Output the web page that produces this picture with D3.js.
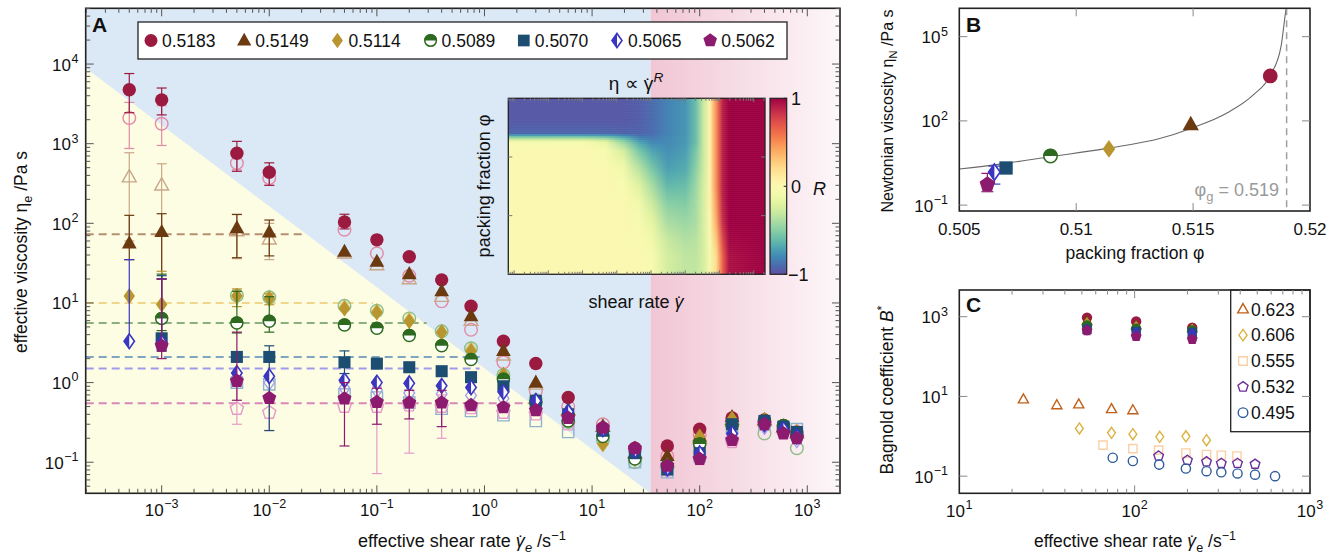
<!DOCTYPE html>
<html>
<head>
<meta charset="utf-8">
<script src="https://cdn.jsdelivr.net/npm/d3@7"></script>
<style>
  body { margin: 0; background: #fff; }
  svg { font-family: "Liberation Sans", Arial, Helvetica, sans-serif; }
</style>
</head>
<body>
<svg id="fig" width="1341" height="558"></svg>
<script>
// ---------- data: panel A ----------
var shearRates = [5e-4, 1e-3, 5e-3, 1e-2, 0.05, 0.1, 0.2, 0.4, 0.75, 1.5, 3, 6, 12.6, 25, 50, 100, 200, 400, 600, 800];
var phiLabels = ["0.5183", "0.5149", "0.5114", "0.5089", "0.5070", "0.5065", "0.5062"];

var etaFilled = [
  [4760, 3550, 760, 437, 104, 62, 38, 19.5, 9.1, 3.3, 1.74, 0.65, 0.27, 0.15, 0.16, 0.26, 0.36, 0.34, 0.28, 0.24],
  [56, 78, 87, 77, 44, 33, 23, 14, 6.8, 2.5, 1.0, 0.45, 0.28, 0.13, 0.12, 0.21, 0.37, 0.34, 0.28, 0.24],
  [12.2, 9.6, 12.3, 11.4, 8.5, 7.6, 5.9, 4.3, 2.5, 1.26, 0.59, 0.36, 0.17, 0.11, 0.09, 0.21, 0.35, 0.34, 0.28, 0.24],
  [null, 6.4, 5.6, 5.9, 5.3, 4.8, 3.9, 2.9, 1.95, 1.1, 0.56, 0.33, 0.21, 0.11, 0.09, 0.17, 0.29, 0.33, 0.29, 0.21],
  [null, 3.6, 2.1, 2.1, 1.8, 1.73, 1.56, 1.39, 1.17, 0.9, 0.59, 0.40, 0.25, 0.13, 0.081, 0.13, 0.30, 0.33, 0.28, 0.24],
  [3.3, 3.2, 1.32, 1.2, 1.07, 1.0, 0.98, 0.91, 0.87, 0.76, 0.59, 0.43, 0.26, 0.14, 0.084, 0.13, 0.23, 0.30, 0.26, 0.21],
  [null, 2.9, 1.05, 0.64, 0.63, 0.57, 0.56, 0.56, 0.52, 0.49, 0.45, 0.36, 0.27, 0.15, 0.09, 0.11, 0.19, 0.30, 0.23, 0.20]
];
var etaOpen = [
  [2100, 1780, 570, 370, 83, 42, 22, 10.5, 4.6, 1.8, 0.78, 0.5, 0.3, 0.14, 0.12, 0.22, 0.33, 0.32, 0.26, 0.22],
  [380, 300, 80, 63, 42, 30, 20, 12, 6.0, 2.2, 0.95, 0.45, 0.28, 0.13, 0.1, 0.2, 0.34, 0.33, 0.27, 0.23],
  [null, null, 12, 11.5, 8.8, 7.8, 6.1, 4.3, 2.6, 1.2, 0.55, 0.33, 0.17, 0.11, 0.09, 0.2, 0.33, 0.32, 0.27, 0.22],
  [null, null, 12.4, 11.8, 9.2, 8.0, 6.4, 4.4, 2.7, 1.25, 0.6, 0.32, 0.19, 0.1, 0.085, 0.17, 0.3, 0.23, 0.25, 0.15],
  [null, null, 1.0, 0.95, 0.71, 0.65, 0.56, 0.47, 0.44, 0.39, 0.33, 0.24, 0.22, 0.1, 0.075, 0.12, 0.27, 0.3, 0.27, 0.26],
  [null, null, 1.15, 1.0, 0.85, 0.8, 0.74, 0.72, 0.69, 0.63, 0.5, 0.38, 0.24, 0.12, 0.08, 0.12, 0.22, 0.28, 0.25, 0.19],
  [null, null, 0.47, 0.42, 0.5, 0.5, 0.52, 0.5, 0.48, 0.42, 0.4, 0.3, 0.25, 0.14, 0.085, 0.11, 0.18, 0.3, 0.24, 0.21]
];
// error bars: [index into shearRates, low, high]
var errFilled = [
  [[0, 2450, 7600], [1, 2300, 5000], [2, 450, 1070], [3, 300, 575], [4, 85, 130]],
  [[0, 35, 126], [1, 20, 132], [2, 37, 129], [3, 39, 110]],
  [[1, 6, 25], [2, 9, 15], [3, 9.5, 13]],
  [[1, 4.5, 23], [2, 4.2, 14], [3, 4.3, 12]],
  [[1, 2.5, 22], [3, 0.25, 2.9], [4, 1.3, 2.5]],
  [[0, 3.3, 35], [1, 2.5, 20]],
  [[1, 2, 20], [2, 0.6, 4.3], [4, 0.16, 1.0], [5, 0.30, 0.85], [6, 0.35, 0.8], [7, 0.28, 0.8]]
];
var errOpen = [
  [[0, 870, 3300], [1, 950, 3000], [2, 470, 700], [3, 300, 450]],
  [[0, 60, 770], [1, 20, 560], [2, 36, 130], [3, 35, 100]],
  [], [], [], [],
  [[2, 0.3, 0.9], [3, 0.25, 0.7], [5, 0.072, 0.9], [6, 0.13, 0.8], [7, 0.2, 0.7]]
];
// Newtonian plateau viscosity and the rate where its dashed line stops
var etaNewtonian = [4000, 73, 10, 5.6, 2.1, 1.5, 0.55];
var plateauEnd = [null, 0.022, 0.092, 0.29, 0.9, 0.9, 2.95];

// background regions of A
var yieldEtaAtLowest = 8900;   // upper edge of yellow region at the lowest rate
var crossoverRate = 35;        // start of the inertial (pink) region

// inset heatmap: R read along rows (v = fraction of height) at shear positions u
var insetU = [0, 0.3, 0.38, 0.45, 0.51, 0.56, 0.62, 0.69, 0.73, 0.76, 0.785, 0.81, 0.835, 0.86, 1];
var insetV = [0, 0.12, 0.2, 0.225, 0.25, 0.3, 0.4, 0.5, 0.6, 0.7, 0.8, 0.9, 1];
var insetR = [
  [-0.97, -0.97, -0.97, -0.97, -0.95, -0.9, -0.82, -0.76, -0.6, -0.3, 0.05, 0.5, 0.9, 1, 1],
  [-0.97, -0.97, -0.97, -0.97, -0.95, -0.9, -0.82, -0.76, -0.6, -0.3, 0.05, 0.5, 0.9, 1, 1],
  [-0.92, -0.92, -0.92, -0.93, -0.93, -0.9, -0.82, -0.76, -0.6, -0.3, 0.05, 0.5, 0.9, 1, 1],
  [-0.45, -0.45, -0.5, -0.65, -0.82, -0.85, -0.8, -0.75, -0.6, -0.3, 0.05, 0.5, 0.9, 1, 1],
  [-0.04, -0.05, -0.15, -0.45, -0.7, -0.8, -0.8, -0.75, -0.6, -0.3, 0.05, 0.5, 0.9, 1, 1],
  [0, 0, -0.05, -0.25, -0.55, -0.7, -0.78, -0.72, -0.55, -0.3, 0.05, 0.5, 0.9, 1, 1],
  [0, 0, 0, -0.1, -0.35, -0.55, -0.72, -0.68, -0.5, -0.28, 0.05, 0.5, 0.9, 1, 1],
  [0, 0, 0, -0.04, -0.2, -0.4, -0.62, -0.6, -0.45, -0.25, 0.05, 0.5, 0.9, 1, 1],
  [0, 0, 0, 0, -0.1, -0.28, -0.5, -0.52, -0.42, -0.25, 0.05, 0.45, 0.88, 1, 1],
  [0, 0, 0, 0, -0.05, -0.18, -0.4, -0.45, -0.4, -0.25, 0.0, 0.4, 0.85, 1, 1],
  [0, 0, 0, 0, -0.02, -0.1, -0.3, -0.38, -0.36, -0.25, -0.05, 0.3, 0.75, 0.98, 1],
  [0, 0, 0, 0, 0, -0.05, -0.25, -0.33, -0.33, -0.25, -0.08, 0.2, 0.65, 0.95, 1],
  [0, 0, 0, 0, 0, -0.05, -0.25, -0.33, -0.33, -0.25, -0.08, 0.2, 0.65, 0.95, 1]
];

// ---------- data: panel B ----------
var phiValues = [0.5183, 0.5149, 0.5114, 0.5089, 0.5070, 0.5065, 0.5062];
var errNewtonian = [null, null, null, null, null, [0.56, 2.45], [0.3, 1.35]];
var fitPhi = [0.5050, 0.50674, 0.50889, 0.51132, 0.51361, 0.51490, 0.51647, 0.51761, 0.51830, 0.51876, 0.51897, 0.51904];
var fitEta = [1.92, 2.89, 5.27, 10.5, 23.9, 54, 195, 890, 4170, 44000, 900000, 2000000];
var phiGlass = 0.519;

// ---------- data: panel C ----------
var bagnoldLabels = ["0.623", "0.606", "0.555", "0.532", "0.495"];
var bagnoldRates = [
  [23.2, 36, 48, 73.8, 97.7],
  [48.4, 73.8, 97.7, 139, 196, 257],
  [66, 97.7, 137, 196, 257, 312, 383],
  [137, 200, 257, 312, 386, 486],
  [75, 97.7, 138, 196, 257, 312, 386, 486, 632]
];
var bagnoldValues = [
  [8.4, 6.0, 6.3, 4.8, 4.5],
  [1.57, 1.22, 1.13, 0.97, 1.0, 0.80],
  [0.60, 0.49, 0.45, 0.38, 0.35, 0.335, 0.32],
  [0.32, 0.25, 0.23, 0.21, 0.21, 0.20],
  [0.29, 0.24, 0.195, 0.155, 0.133, 0.125, 0.117, 0.109, 0.10]
];
var bagnoldOwnRates = [53.5, 102, 213];
var bagnoldOwn = [
  [950, 760, 530], [780, 600, 500], [700, 560, 480], [600, 500, 450],
  [480, 420, 400], [480, 400, 380], [450, 320, 270]
];

// ---------- styles ----------
var phiColors = ["#9b1b40", "#6b3a10", "#b8952f", "#2d6a1f", "#1d4e72", "#3a36c0", "#8c1a6e"];
var openColors = ["#e38aa7", "#c9a787", "#e2c877", "#8dbf8a", "#8fb3cc", "#a3a0ee", "#e59bc9"];
var dashColors = ["none", "#b59070", "#efd68c", "#8bb07f", "#80a4c2", "#9f9bea", "#d987b8"];
var phiShapes = ["circle", "triangle", "diamond", "halfcircle", "square", "halfdiamond", "pentagon"];
var openShapes = ["circle", "triangle", "diamond", "circle", "square", "diamond", "pentagon"];
var bagnoldColors = ["#c0601a", "#dbb240", "#fcd0a6", "#6b2f9c", "#2f5d9c"];
var bagnoldShapes = ["triangle", "diamond", "square", "pentagon", "circle"];

var TICK = 17, TITLE = 17.5;

var svg = d3.select("#fig");
var defs = svg.append("defs");

// ---------- helpers ----------
function shapePath(shape, r) {
  if (shape === "circle" || shape === "halfcircle") {
    return "M" + r + ",0A" + r + "," + r + " 0 1 1 " + (-r) + ",0A" + r + "," + r + " 0 1 1 " + r + ",0Z";
  }
  if (shape === "triangle") return "M0," + (-1.2 * r) + "L" + (1.1 * r) + "," + (0.75 * r) + "L" + (-1.1 * r) + "," + (0.75 * r) + "Z";
  if (shape === "diamond" || shape === "halfdiamond") return "M0," + (-1.2 * r) + "L" + (0.85 * r) + ",0L0," + (1.2 * r) + "L" + (-0.85 * r) + ",0Z";
  if (shape === "square") return "M" + (-0.9 * r) + "," + (-0.9 * r) + "h" + (1.8 * r) + "v" + (1.8 * r) + "h" + (-1.8 * r) + "Z";
  if (shape === "pentagon") {
    var p = d3.range(5).map(function (k) {
      var a = -Math.PI / 2 + k * 2 * Math.PI / 5;
      return [1.1 * r * Math.cos(a), 1.1 * r * Math.sin(a)];
    });
    return "M" + p.join("L") + "Z";
  }
}

function marker(g, shape, x, y, r, color, open) {
  var m = g.append("g").attr("transform", "translate(" + x + "," + y + ")");
  if (open) {
    m.append("path").attr("d", shapePath(shape, r)).attr("fill", "none").attr("stroke", color).attr("stroke-width", 1.4);
  } else if (shape === "halfcircle") {
    m.append("path").attr("d", shapePath(shape, r - 0.7)).attr("fill", "#fff").attr("stroke", color).attr("stroke-width", 1.5);
    m.append("path").attr("d", "M" + (-r) + ",0A" + r + "," + r + " 0 0 1 " + r + ",0Z").attr("fill", color);
  } else if (shape === "halfdiamond") {
    m.append("path").attr("d", shapePath(shape, r - 0.6)).attr("fill", "#fff").attr("stroke", color).attr("stroke-width", 1.6);
    m.append("path").attr("d", "M0," + (-1.2 * r) + "L" + (-0.85 * r) + ",0L0," + (1.2 * r) + "Z").attr("fill", color);
  } else {
    m.append("path").attr("d", shapePath(shape, r)).attr("fill", color);
  }
}

function logTicks(scale) {
  var d = scale.domain(), out = [];
  var lo = Math.floor(Math.log10(d[0])), hi = Math.ceil(Math.log10(d[1]));
  for (var k = lo; k <= hi; k++) {
    for (var m = 1; m < 10; m++) {
      var v = m * Math.pow(10, k);
      if (v >= d[0] * 1.0001 && v <= d[1] / 1.0001) out.push({ v: v, major: m === 1, k: k });
    }
  }
  return out;
}

function powLabel(g, x, y, exp, anchor, size) {
  var t = g.append("text").attr("x", x).attr("y", y).attr("text-anchor", anchor)
    .attr("font-size", size).attr("fill", "#111");
  t.append("tspan").text("10");
  t.append("tspan").attr("dy", -0.45 * size).attr("dx", 0.5).attr("font-size", size * 0.74).text(exp < 0 ? "\u2212" + (-exp) : exp);
}

// parts: {t, sub, sup, it, dot}
function rich(t, parts, size) {
  var shift = 0, pendingDx = 0;
  parts.forEach(function (p) {
    var fs = (p.sub || p.sup) ? size * 0.72 : size;
    var target = p.sub ? size * 0.27 : (p.sup ? -size * 0.4 : 0);
    var s = t.append("tspan").text(p.t).attr("font-size", fs);
    if (target !== shift) s.attr("dy", target - shift);
    shift = target;
    if (pendingDx) { s.attr("dx", pendingDx); pendingDx = 0; }
    if (p.it) s.attr("font-style", "italic");
    if (p.dot) {
      t.append("tspan").text("\u02d9").attr("font-size", fs)
        .attr("dx", (p.it ? -0.37 : -0.42) * fs).attr("dy", 0.12 * fs);
      shift += 0.12 * fs;
      pendingDx = (p.it ? 0.04 : 0.09) * fs;
    }
  });
}

function frame(g, x0, x1, y0, y1) {
  g.append("rect").attr("x", x0).attr("y", y0).attr("width", x1 - x0).attr("height", y1 - y0)
    .attr("fill", "none").attr("stroke", "#222").attr("stroke-width", 1.6);
}

function xTicks(g, scale, values, y0, y1, color) {
  values.forEach(function (t) {
    var x = scale(t.v), L = t.major ? 8 : 4.5;
    g.append("line").attr("x1", x).attr("x2", x).attr("y1", y1).attr("y2", y1 - L).attr("stroke", color);
    g.append("line").attr("x1", x).attr("x2", x).attr("y1", y0).attr("y2", y0 + L).attr("stroke", color);
  });
}
function yTicks(g, scale, values, x0, x1, color) {
  values.forEach(function (t) {
    var y = scale(t.v), L = t.major ? 8 : 4.5;
    g.append("line").attr("x1", x0).attr("x2", x0 + L).attr("y1", y).attr("y2", y).attr("stroke", color);
    g.append("line").attr("x1", x1).attr("x2", x1 - L).attr("y1", y).attr("y2", y).attr("stroke", color);
  });
}

function errorBar(g, x, yLo, yHi, color, w) {
  g.append("line").attr("x1", x).attr("x2", x).attr("y1", yLo).attr("y2", yHi).attr("stroke", color).attr("stroke-width", 1.2);
  [yLo, yHi].forEach(function (y) {
    g.append("line").attr("x1", x - w).attr("x2", x + w).attr("y1", y).attr("y2", y).attr("stroke", color).attr("stroke-width", 1.2);
  });
}

// ================= PANEL A =================
var A = { x0: 85.7, x1: 840, y0: 8.3, y1: 493.3 };
var xA = d3.scaleLog().domain([Math.pow(10, -3.706), Math.pow(10, 3.304)]).range([A.x0, A.x1]);
var yA = d3.scaleLog().domain([Math.pow(10, -1.39), Math.pow(10, 4.70)]).range([A.y1, A.y0]);
var gA = svg.append("g");

var pinkGrad = defs.append("linearGradient").attr("id", "pinkGrad").attr("x1", 0).attr("x2", 1).attr("y1", 0).attr("y2", 0);
pinkGrad.append("stop").attr("offset", 0).attr("stop-color", "#f1c6d4");
pinkGrad.append("stop").attr("offset", 1).attr("stop-color", "#fdf7f9");

gA.append("rect").attr("x", A.x0).attr("y", A.y0).attr("width", xA(crossoverRate) - A.x0).attr("height", A.y1 - A.y0).attr("fill", "#dbe9f6");
gA.append("path")
  .attr("d", "M" + A.x0 + "," + yA(yieldEtaAtLowest) + "L" + xA(crossoverRate) + "," + A.y1 + "L" + A.x0 + "," + A.y1 + "Z")
  .attr("fill", "#fdfde4");
gA.append("rect").attr("x", xA(crossoverRate)).attr("y", A.y0).attr("width", A.x1 - xA(crossoverRate)).attr("height", A.y1 - A.y0).attr("fill", "url(#pinkGrad)");

// Newtonian plateau dashed lines
etaNewtonian.forEach(function (eta, i) {
  if (plateauEnd[i] === null) return;
  gA.append("line").attr("x1", A.x0).attr("x2", xA(plateauEnd[i])).attr("y1", yA(eta)).attr("y2", yA(eta))
    .attr("stroke", dashColors[i]).attr("stroke-width", 2).attr("stroke-dasharray", "8,5");
});

// open (second) measurements
etaOpen.forEach(function (series, i) {
  errOpen[i].forEach(function (e) {
    errorBar(gA, xA(shearRates[e[0]]), yA(e[1]), yA(e[2]), openColors[i], 5);
  });
  series.forEach(function (v, j) {
    if (v === null) return;
    marker(gA, openShapes[i], xA(shearRates[j]), yA(v), 6.3, openColors[i], true);
  });
});
// filled measurements
etaFilled.forEach(function (series, i) {
  errFilled[i].forEach(function (e) {
    errorBar(gA, xA(shearRates[e[0]]), yA(e[1]), yA(e[2]), phiColors[i], 5);
  });
  series.forEach(function (v, j) {
    if (v === null) return;
    marker(gA, phiShapes[i], xA(shearRates[j]), yA(v), 6.7, phiColors[i], false);
  });
});

// ----- inset heatmap -----
var I = { x0: 508.3, x1: 765, y0: 98.3, y1: 274.3 };
var insetY = d3.scaleLinear().domain([0, 1]).range([I.y0, I.y1]);
var rColor = function (R) { return d3.interpolateSpectral((1 - R) / 2); };

defs.append("clipPath").attr("id", "insetClip").append("rect")
  .attr("x", I.x0).attr("y", I.y0).attr("width", I.x1 - I.x0).attr("height", I.y1 - I.y0);

// thin horizontal strips, each shaded between the two nearest read rows
var hm = svg.append("g").attr("clip-path", "url(#insetClip)");
var nStrips = 88;
d3.range(nStrips).forEach(function (s) {
  var v = (s + 0.5) / nStrips;
  var k = Math.min(insetV.length - 2, Math.max(0, d3.bisectRight(insetV, v) - 1));
  var f = (v - insetV[k]) / (insetV[k + 1] - insetV[k]);
  var grad = defs.append("linearGradient").attr("id", "hmrow" + s).attr("x1", 0).attr("x2", 1).attr("y1", 0).attr("y2", 0);
  insetU.forEach(function (u, j) {
    var R = insetR[k][j] + f * (insetR[k + 1][j] - insetR[k][j]);
    grad.append("stop").attr("offset", u).attr("stop-color", rColor(R));
  });
  hm.append("rect").attr("x", I.x0).attr("width", I.x1 - I.x0)
    .attr("y", insetY(s / nStrips)).attr("height", (I.y1 - I.y0) / nStrips + 0.6)
    .attr("fill", "url(#hmrow" + s + ")");
});
svg.append("rect").attr("x", I.x0).attr("y", I.y0).attr("width", I.x1 - I.x0).attr("height", I.y1 - I.y0)
  .attr("fill", "none").attr("stroke", "#222").attr("stroke-width", 1.3);

var insetLog = d3.scaleLog().domain([Math.pow(10, -4.17), Math.pow(10, 3.33)]).range([I.x0, I.x1]);
logTicks(insetLog).forEach(function (t) {
  var x = insetLog(t.v), L = t.major ? 4 : 2.5;
  svg.append("line").attr("x1", x).attr("x2", x).attr("y1", I.y0).attr("y2", I.y0 + L).attr("stroke", "#777");
  svg.append("line").attr("x1", x).attr("x2", x).attr("y1", I.y1).attr("y2", I.y1 - L).attr("stroke", "#777");
});
[1 / 3, 2 / 3].forEach(function (v) {
  svg.append("line").attr("x1", I.x0).attr("x2", I.x0 + 4).attr("y1", insetY(v)).attr("y2", insetY(v)).attr("stroke", "#777");
  svg.append("line").attr("x1", I.x1).attr("x2", I.x1 - 4).attr("y1", insetY(v)).attr("y2", insetY(v)).attr("stroke", "#777");
});

// colour bar
var cbGrad = defs.append("linearGradient").attr("id", "cbGrad").attr("x1", 0).attr("x2", 0).attr("y1", 0).attr("y2", 1);
d3.range(0, 1.001, 0.05).forEach(function (t) {
  cbGrad.append("stop").attr("offset", t).attr("stop-color", d3.interpolateSpectral(t));
});
var cbX0 = 770, cbX1 = 786.7;
var cbScale = d3.scaleLinear().domain([-1, 1]).range([I.y1, I.y0]);
svg.append("rect").attr("x", cbX0).attr("y", I.y0).attr("width", cbX1 - cbX0).attr("height", I.y1 - I.y0)
  .attr("fill", "url(#cbGrad)").attr("stroke", "#222").attr("stroke-width", 1.2);
[-1, 0, 1].forEach(function (R) {
  svg.append("line").attr("x1", cbX1).attr("x2", cbX1 - 3).attr("y1", cbScale(R)).attr("y2", cbScale(R)).attr("stroke", "#222");
  svg.append("text").attr("x", R < 0 ? 788 : 791).attr("y", cbScale(R) + 6.5).attr("font-size", 18).attr("fill", "#111")
    .text(R < 0 ? "\u22121" : R);
});
svg.append("text").attr("x", 813).attr("y", 194.5).attr("font-size", 18).attr("font-style", "italic").attr("fill", "#111").text("R");

var tTitle = svg.append("text").attr("x", 636).attr("y", 90).attr("text-anchor", "middle").attr("font-size", 19).attr("fill", "#111");
rich(tTitle, [{ t: "\u03b7 \u221d " }, { t: "\u03b3", dot: true }, { t: "R", sup: true, it: true }], 19);
var tShear = svg.append("text").attr("x", 636).attr("y", 308).attr("text-anchor", "middle").attr("font-size", 18).attr("fill", "#111");
rich(tShear, [{ t: "shear rate " }, { t: "\u03b3", it: true, dot: true }], 18);
svg.append("text").attr("transform", "translate(490,186) rotate(-90)").attr("text-anchor", "middle")
  .attr("font-size", 18).attr("fill", "#111").text("packing fraction \u03c6");

// ----- legend A -----
var legA = svg.append("g");
legA.append("rect").attr("x", 138).attr("y", 22).attr("width", 649).attr("height", 37)
  .attr("fill", "#fff").attr("stroke", "#222").attr("stroke-width", 1.3);
phiLabels.forEach(function (lab, i) {
  var x = 151 + i * 93.2;
  marker(legA, phiShapes[i], x, 40.5, 6.5, phiColors[i], false);
  legA.append("text").attr("x", x + 11).attr("y", 46.5).attr("font-size", 17.5).attr("fill", "#111").text(lab);
});

// ----- axes A -----
var axA = svg.append("g");
frame(axA, A.x0, A.x1, A.y0, A.y1);
xTicks(axA, xA, logTicks(xA), A.y0, A.y1, "#555");
yTicks(axA, yA, logTicks(yA), A.x0, A.x1, "#555");
logTicks(xA).filter(function (t) { return t.major; }).forEach(function (t) {
  powLabel(axA, xA(t.v), 516, t.k, "middle", TICK);
});
logTicks(yA).filter(function (t) { return t.major; }).forEach(function (t) {
  powLabel(axA, 78.5, yA(t.v) + 6.5, t.k, "end", TICK);
});
var axTitleA = axA.append("text").attr("x", 462).attr("y", 547).attr("text-anchor", "middle").attr("font-size", 18).attr("fill", "#111");
rich(axTitleA, [{ t: "effective shear rate " }, { t: "\u03b3", it: true, dot: true }, { t: "e", sub: true, it: true }, { t: " /s" }, { t: "\u22121", sup: true }], 18);
var ayTitleA = axA.append("text").attr("transform", "translate(27,252) rotate(-90)").attr("text-anchor", "middle").attr("font-size", TITLE).attr("fill", "#111");
rich(ayTitleA, [{ t: "effective viscosity \u03b7" }, { t: "e", sub: true }, { t: " /Pa s" }], TITLE);
axA.append("text").attr("x", 92).attr("y", 32).attr("font-size", 21).attr("font-weight", "bold").attr("fill", "#111").text("A");

// ================= PANEL B =================
var B = { x0: 959.3, x1: 1310, y0: 8.3, y1: 211 };
var xB = d3.scaleLinear().domain([0.505, 0.52]).range([B.x0, B.x1]);
var yB = d3.scaleLog().domain([Math.pow(10, -1.21), Math.pow(10, 6.01)]).range([B.y1, B.y0]);
var gB = svg.append("g");
defs.append("clipPath").attr("id", "clipB").append("rect").attr("x", B.x0).attr("y", B.y0).attr("width", B.x1 - B.x0).attr("height", B.y1 - B.y0);

var fitLine = d3.line().x(function (d) { return xB(d[0]); }).y(function (d) { return yB(d[1]); }).curve(d3.curveMonotoneX);
gB.append("path").attr("clip-path", "url(#clipB)").attr("d", fitLine(d3.zip(fitPhi, fitEta)))
  .attr("fill", "none").attr("stroke", "#6a6a6a").attr("stroke-width", 1.1);
gB.append("line").attr("x1", xB(phiGlass)).attr("x2", xB(phiGlass)).attr("y1", B.y0).attr("y2", B.y1)
  .attr("stroke", "#a0a0a0").attr("stroke-width", 1.5).attr("stroke-dasharray", "7,5");
var tG = gB.append("text").attr("x", 1279).attr("y", 196).attr("text-anchor", "end").attr("font-size", 18).attr("fill", "#9a9a9a");
rich(tG, [{ t: "\u03c6" }, { t: "g", sub: true }, { t: " = 0.519" }], 18);

etaNewtonian.forEach(function (eta, i) {
  if (errNewtonian[i]) errorBar(gB, xB(phiValues[i]), yB(errNewtonian[i][0]), yB(errNewtonian[i][1]), phiColors[i], 6);
});
etaNewtonian.forEach(function (eta, i) {
  marker(gB, phiShapes[i], xB(phiValues[i]), yB(eta), 7.4, phiColors[i], false);
});

var axB = svg.append("g");
frame(axB, B.x0, B.x1, B.y0, B.y1);
xTicks(axB, xB, [0.51, 0.515].map(function (v) { return { v: v, major: true }; }), B.y0, B.y1, "#888");
yTicks(axB, yB, [0.1, 100, 1e5].map(function (v) { return { v: v, major: true }; }), B.x0, B.x1, "#888");
[0.505, 0.51, 0.515, 0.52].forEach(function (v) {
  axB.append("text").attr("x", xB(v)).attr("y", 235).attr("text-anchor", "middle").attr("font-size", TICK).attr("fill", "#111")
    .text(v === 0.51 || v === 0.52 ? v.toFixed(2) : v.toFixed(3));
});
[[0.1, -1], [100, 2], [1e5, 5]].forEach(function (p) {
  powLabel(axB, 948, yB(p[0]) + 6.5, p[1], "end", TICK);
});
axB.append("text").attr("x", 1135).attr("y", 259).attr("text-anchor", "middle").attr("font-size", TITLE).attr("fill", "#111").text("packing fraction \u03c6");
var ayB = axB.append("text").attr("transform", "translate(893,111) rotate(-90)").attr("text-anchor", "middle").attr("font-size", 16).attr("fill", "#111");
rich(ayB, [{ t: "Newtonian viscosity \u03b7" }, { t: "N", sub: true }, { t: " /Pa s" }], 16);
axB.append("text").attr("x", 966).attr("y", 32).attr("font-size", 21).attr("font-weight", "bold").attr("fill", "#111").text("B");

// ================= PANEL C =================
var C = { x0: 959.3, x1: 1310, y0: 290, y1: 493.3 };
var xC = d3.scaleLog().domain([10, 1000]).range([C.x0, C.x1]);
var yC = d3.scaleLog().domain([Math.pow(10, -1.43), Math.pow(10, 3.67)]).range([C.y1, C.y0]);
var gC = svg.append("g");

bagnoldValues.forEach(function (series, i) {
  series.forEach(function (v, j) {
    marker(gC, bagnoldShapes[i], xC(bagnoldRates[i][j]), yC(v), 4.6, bagnoldColors[i], true);
  });
});
bagnoldOwn.forEach(function (series, i) {
  series.forEach(function (v, j) {
    var shape = phiShapes[i] === "halfcircle" ? "circle" : (phiShapes[i] === "halfdiamond" ? "diamond" : phiShapes[i]);
    marker(gC, shape, xC(bagnoldOwnRates[j]), yC(v), 5.2, phiColors[i], false);
  });
});

var legC = svg.append("g");
legC.append("rect").attr("x", 1230.7).attr("y", C.y0).attr("width", C.x1 - 1230.7).attr("height", 141.7)
  .attr("fill", "#fff").attr("stroke", "#222").attr("stroke-width", 1.3);
bagnoldLabels.forEach(function (lab, i) {
  var y = 309.3 + i * 25.85;
  marker(legC, bagnoldShapes[i], 1243, y, 4.8, bagnoldColors[i], true);
  legC.append("text").attr("x", 1251).attr("y", y + 6.3).attr("font-size", 17.5).attr("fill", "#111").text(lab);
});

var axC = svg.append("g");
frame(axC, C.x0, C.x1, C.y0, C.y1);
xTicks(axC, xC, logTicks(xC), C.y0, C.y1, "#888");
yTicks(axC, yC, [0.1, 10, 1000].map(function (v) { return { v: v, major: true }; }), C.x0, C.x1, "#888");
[[10, 1], [100, 2], [1000, 3]].forEach(function (p) {
  powLabel(axC, xC(p[0]), 517, p[1], "middle", TICK);
});
[[0.1, -1], [10, 1], [1000, 3]].forEach(function (p) {
  powLabel(axC, 948, yC(p[0]) + 6.5, p[1], "end", TICK);
});
var axTitleC = axC.append("text").attr("x", 1135).attr("y", 547).attr("text-anchor", "middle").attr("font-size", TITLE).attr("fill", "#111");
rich(axTitleC, [{ t: "effective shear rate " }, { t: "\u03b3", it: true, dot: true }, { t: "e", sub: true }, { t: " /s" }, { t: "\u22121", sup: true }], TITLE);
var ayC = axC.append("text").attr("transform", "translate(893,390) rotate(-90)").attr("text-anchor", "middle").attr("font-size", TITLE).attr("fill", "#111");
rich(ayC, [{ t: "Bagnold coefficient " }, { t: "B", it: true }, { t: "*", sup: true }], TITLE);
axC.append("text").attr("x", 966).attr("y", 312).attr("font-size", 21).attr("font-weight", "bold").attr("fill", "#111").text("C");
</script>
</body>
</html>
